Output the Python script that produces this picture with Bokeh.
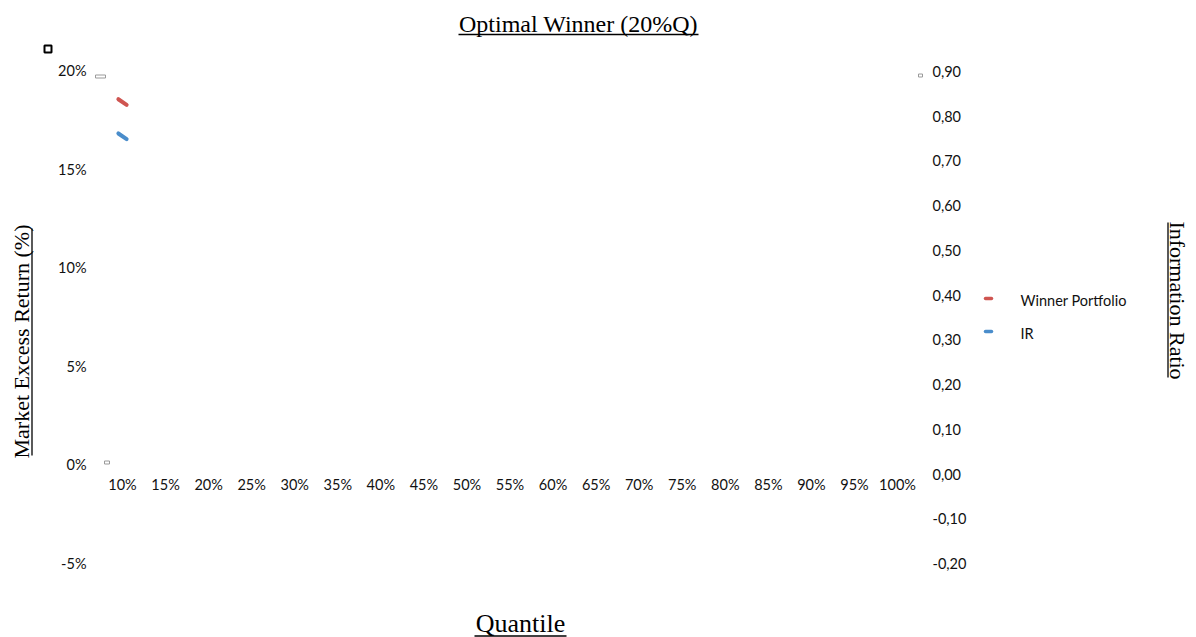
import math

from bokeh.core.properties import value
from bokeh.embed import file_html
from bokeh.models import Range1d
from bokeh.plotting import figure
from bokeh.resources import INLINE

# ---- data -------------------------------------------------------------
quantiles = [10, 15, 20, 25, 30, 35, 40, 45, 50, 55, 60, 65, 70, 75, 80, 85, 90, 95, 100]
quantile_labels = [f"{q}%" for q in quantiles]

return_ticks = [-5, 0, 5, 10, 15, 20]
return_tick_labels = ["-5%", "0%", "5%", "10%", "15%", "20%"]

ir_ticks = [-0.2, -0.1, 0.0, 0.1, 0.2, 0.3, 0.4, 0.5, 0.6, 0.7, 0.8, 0.9]
ir_tick_labels = ["-0,20", "-0,10", "0,00", "0,10", "0,20", "0,30",
                  "0,40", "0,50", "0,60", "0,70", "0,80", "0,90"]

series_names = ["Winner Portfolio", "IR"]
winner_quantile = [10]
winner_return = [18.4]      # market excess return, %
ir_quantile = [10]
ir_value = [0.755]          # information ratio

RED = "#CF5551"
BLUE = "#4A8DCB"
TICK_FONT = value("Lato")
TICK_SIZE = "14.5px"
SERIF = value("Liberation Serif")

W, H = 1196, 637

# The frame spans the whole canvas; the ranges place the plotting area
# (quantile 10..100, return -5..20 %, IR -0.2..0.9) inside it.
p = figure(
    width=W, height=H,
    x_range=Range1d(-4.168, 134.72),
    y_range=Range1d(-8.753, 23.55),
    x_axis_type=None, y_axis_type=None,
    output_backend="svg", toolbar_location=None,
    min_border=0, outline_line_color=None,
    background_fill_color="white", border_fill_color="white",
)
p.extra_y_ranges = {"ir": Range1d(-0.3655, 1.0586), "py": Range1d(H, 0)}
p.extra_x_ranges = {"px": Range1d(0, W)}

# ---- tick labels ------------------------------------------------------
p.text(x=[86] * len(return_ticks), y=return_ticks, text=return_tick_labels,
       x_range_name="px", text_align="right", text_baseline="middle",
       text_font=TICK_FONT, text_font_size=TICK_SIZE, text_color="#111111")

p.text(x=[932] * len(ir_ticks), y=ir_ticks, text=ir_tick_labels,
       x_range_name="px", y_range_name="ir", text_align="left",
       text_baseline="middle", text_font=TICK_FONT, text_font_size=TICK_SIZE,
       text_color="#111111")

p.text(x=quantiles, y=[0] * len(quantiles), text=quantile_labels, y_offset=20,
       text_align="center", text_baseline="middle",
       text_font=TICK_FONT, text_font_size=TICK_SIZE, text_color="#111111")

# ---- series -----------------------------------------------------------
p.scatter(x=winner_quantile, y=winner_return, marker="dash", size=10,
          angle=-0.6, line_color=RED, line_width=4, line_cap="round")
p.scatter(x=ir_quantile, y=ir_value, y_range_name="ir", marker="dash",
          size=10, angle=-0.6, line_color=BLUE, line_width=4, line_cap="round")

# ---- chart handles ----------------------------------------------------
p.scatter(x=[47.5], y=[48.5], x_range_name="px", y_range_name="py",
          marker="square", size=7, fill_color="white", line_color="black",
          line_width=2)
p.rect(x=[100, 106.5, 920], y=[76, 462, 75], width=[10, 5, 4], height=[3, 3, 3],
       x_range_name="px", y_range_name="py", fill_color=None,
       line_color="#9a9a9a", line_width=1)

# ---- titles (underlined) ----------------------------------------------
p.text(x=[578], y=[23], text=["Optimal Winner (20%Q)"],
       x_range_name="px", y_range_name="py", text_align="center",
       text_baseline="middle", text_font=SERIF, text_font_size="24px",
       text_color="black")
p.segment(x0=[458], y0=[34], x1=[698], y1=[34],
          x_range_name="px", y_range_name="py", line_color="black", line_width=1.3)

p.text(x=[520], y=[623], text=["Quantile"],
       x_range_name="px", y_range_name="py", text_align="center",
       text_baseline="middle", text_font=SERIF, text_font_size="26px",
       text_color="black")
p.segment(x0=[474], y0=[635.5], x1=[566], y1=[635.5],
          x_range_name="px", y_range_name="py", line_color="black", line_width=1.3)

p.text(x=[21], y=[341], text=["Market Excess Return (%)"], angle=math.pi / 2,
       x_range_name="px", y_range_name="py", text_align="center",
       text_baseline="middle", text_font=SERIF, text_font_size="22px",
       text_color="black")
p.segment(x0=[31.5], y0=[228], x1=[31.5], y1=[455],
          x_range_name="px", y_range_name="py", line_color="black", line_width=1.3)

p.text(x=[1177], y=[300], text=["Information Ratio"], angle=-math.pi / 2,
       x_range_name="px", y_range_name="py", text_align="center",
       text_baseline="middle", text_font=SERIF, text_font_size="22px",
       text_color="black")
p.segment(x0=[1167.5], y0=[222], x1=[1167.5], y1=[377],
          x_range_name="px", y_range_name="py", line_color="black", line_width=1.3)

# ---- legend -----------------------------------------------------------
p.scatter(x=[988, 988], y=[298, 331], x_range_name="px", y_range_name="py",
          marker="dash", size=6, line_color=[RED, BLUE], line_width=3.5,
          line_cap="round")
p.text(x=[1020, 1020], y=[300, 333], text=series_names,
       x_range_name="px", y_range_name="py", text_align="left",
       text_baseline="middle", text_font=TICK_FONT, text_font_size=TICK_SIZE,
       text_color="#111111")

open("out.html", "w").write(file_html(p, INLINE))
